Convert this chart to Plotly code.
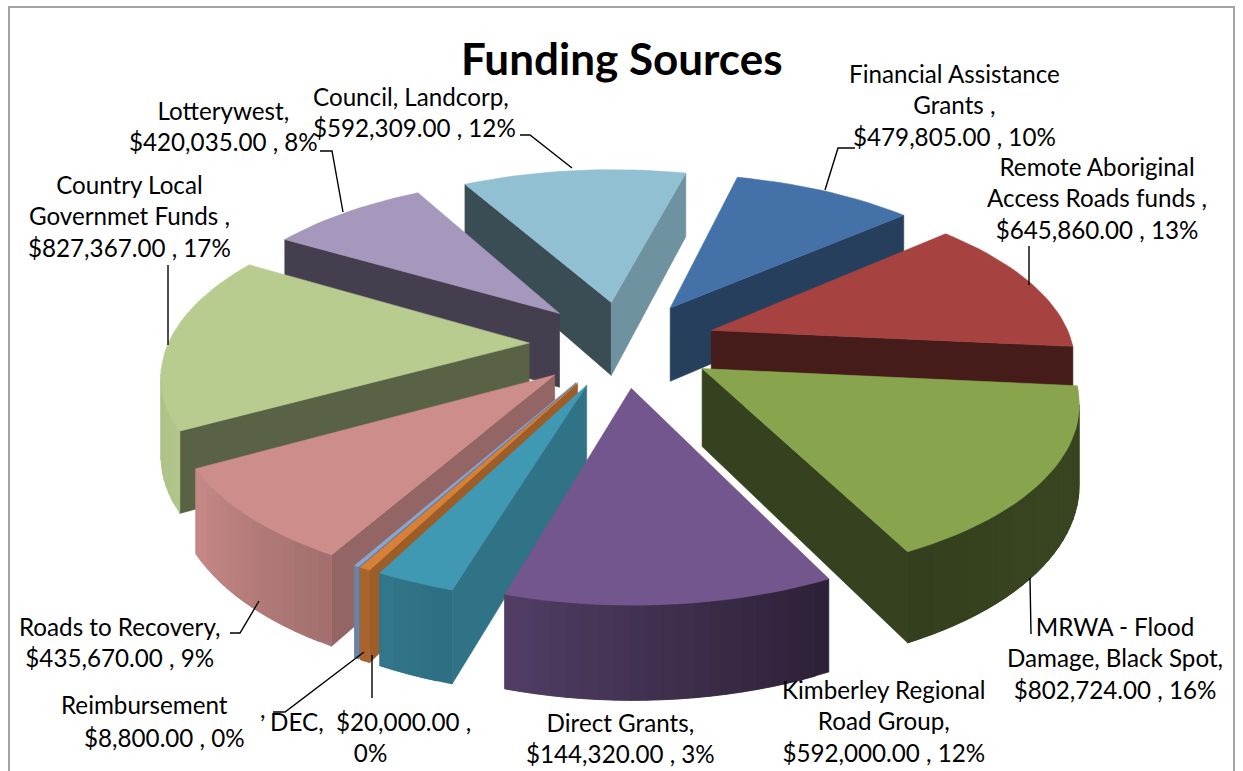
import math
import numpy as np
import plotly.graph_objects as go

categories = ["Financial Assistance Grants", "Remote Aboriginal Access Roads funds",
              "MRWA - Flood Damage, Black Spot", "Kimberley Regional Road Group",
              "Direct Grants", "DEC", "Reimbursement", "Roads to Recovery",
              "Country Local Governmet Funds", "Lotterywest", "Council, Landcorp"]
values = [479805, 645860, 802724, 592000, 144320, 20000, 8800, 435670, 827367, 420035, 592309]
top_colors = ["#4472A8", "#A64340", "#88A54D", "#72568D", "#4099B3", "#D78038",
              "#8AA6D0", "#CD8D8B", "#B8CC90", "#A697BD", "#92C0D3"]
label_text = [
    "Financial Assistance<br>Grants ,<br>$479,805.00 , 10%",
    "Remote Aboriginal<br>Access Roads funds ,<br>$645,860.00 , 13%",
    "MRWA - Flood<br>Damage, Black Spot,<br>$802,724.00 , 16%",
    "Kimberley Regional<br>Road Group,<br>$592,000.00 , 12%",
    "Direct Grants,<br>$144,320.00 , 3%",
    "DEC,  $20,000.00 ,<br>0%",
    "Reimbursement",
    "$8,800.00 , 0%",
    "Roads to Recovery,<br>$435,670.00 , 9%",
    "Country Local<br>Governmet Funds ,<br>$827,367.00 , 17%",
    "Lotterywest,<br>$420,035.00 , 8%",
]
label_xy = [(954, 105), (1097, 198), (1115, 658), (884, 721), (620, 738),
            (370, 737), (144, 704), (164, 737), (119, 642), (129, 216), (223, 126)]
council_text = "Council, Landcorp,<br>$592,309.00 , 12%"
leaders = [[(855, 148), (838, 148), (825, 190)],
           [(1029, 246), (1029, 285)],
           [(1031, 634), (1030, 578)],
           [(372, 698), (372, 655)],
           [(273, 712), (285, 712), (364, 652)],
           [(230, 633), (240, 633), (259, 601)],
           [(168, 265), (168, 345)],
           [(320, 151), (332, 151), (343, 212)],
           [(520, 135), (530, 135), (572, 168)]]

FONT = "Lato"
START = 14.0
CX, CY, A, B, P, D, EXPLODE = 623.0, 343.5, 361.0, 166.0, 0.16, 76.0, 0.26
OUTER_SHADE = ([90, 125, 154, 197, 240, 290], [.42, .42, .38, .72, .97, .9])
RADIAL_SHADE = ([100, 119, 139, 151, 185, 241], [.77, .72, .55, .48, .42, .40])

total = sum(values)
spans = [360.0 * v / total for v in values]


def project(u, v, z):
    f = 1.0 / (1.0 - P * v)
    return CX + A * u * f, CY + B * v * f + D * z * f


def rim(apex, a):
    r = math.radians(a)
    return apex[0] + math.sin(r), apex[1] - math.cos(r)


def scale(c, s):
    h = c.lstrip("#")
    return "rgb(%d,%d,%d)" % tuple(min(255, round(int(h[i:i + 2], 16) * s)) for i in (0, 2, 4))


def shade(table, normal):
    n = normal % 360
    if n < 60:
        n += 360
    return float(np.interp(n, table[0], table[1]))


def facing(pts):
    a = 0.0
    for (x0, y0), (x1, y1) in zip(pts, pts[1:] + pts[:1]):
        a += x0 * y1 - x1 * y0
    return a > 0


fig = go.Figure()


def poly(pts, color):
    xs = [p[0] for p in pts] + [pts[0][0]]
    ys = [p[1] for p in pts] + [pts[0][1]]
    fig.add_trace(go.Scatter(x=xs, y=ys, mode="lines", fill="toself", fillcolor=color,
                             line=dict(color=color, width=0.6), hoverinfo="skip", showlegend=False))


slices = []
cum = START
for i, sp in enumerate(spans):
    slices.append((i, cum, cum + sp))
    cum += sp
slices.sort(key=lambda s: -math.cos(math.radians((s[1] + s[2]) / 2)))

for i, t0, t1 in slices:
    mid = math.radians((t0 + t1) / 2)
    apex = (EXPLODE * math.sin(mid), -EXPLODE * math.cos(mid))
    col = top_colors[i]
    steps = max(2, int((t1 - t0) / 2))
    angles = np.linspace(t0, t1, steps + 1)
    # radial walls
    e0, e1 = rim(apex, t0), rim(apex, t1)
    for edge, normal, order in ((e0, t0 - 90, -1), (e1, t1 + 90, 1)):
        q = [project(*apex, 0), project(*edge, 0), project(*edge, 1), project(*apex, 1)]
        if order < 0:
            q = q[::-1]
        if facing(q):
            poly(q, scale(col, shade(RADIAL_SHADE, normal)))
    # outer wall: each strip overlaps the next so that no seams show
    n = len(angles)
    for k in range(n - 1):
        a0, a1 = angles[k], angles[min(k + 2, n - 1)]
        amid = (angles[k] + angles[k + 1]) / 2
        p0, p1 = rim(apex, a0), rim(apex, angles[k + 1])
        if not facing([project(*p0, 0), project(*p0, 1), project(*p1, 1), project(*p1, 0)]):
            continue
        arc = np.linspace(a0, a1, 4)
        q = [project(*rim(apex, a), 1) for a in arc] + [project(*rim(apex, a), 0) for a in arc[::-1]]
        poly(q, scale(col, shade(OUTER_SHADE, amid)))
    # top face
    poly([project(*apex, 0)] + [project(*rim(apex, a), 0) for a in angles], col)

for seg in leaders:
    fig.add_trace(go.Scatter(x=[p[0] for p in seg], y=[p[1] for p in seg], mode="lines",
                             line=dict(color="black", width=1.4), hoverinfo="skip", showlegend=False))

# chart frame
fig.add_trace(go.Scatter(x=[9, 9, 1234, 1234], y=[771, 7, 7, 771], mode="lines",
                         line=dict(color="#A3A3A3", width=2), hoverinfo="skip", showlegend=False))

for txt, (x, y) in zip(label_text, label_xy):
    fig.add_annotation(x=x, y=y, text=txt, showarrow=False, align="center",
                       font=dict(family=FONT, size=24.2, color="black"), xanchor="center", yanchor="middle")
fig.add_annotation(x=311, y=112, text=council_text, showarrow=False, align="left", xanchor="left",
                   font=dict(family=FONT, size=24.2, color="black"), yanchor="middle")
fig.add_annotation(x=263, y=708, text=",", showarrow=False, font=dict(family=FONT, size=24.2, color="black"))
fig.add_annotation(x=621, y=58, text="<b>Funding Sources</b>", showarrow=False,
                   font=dict(family=FONT, size=44, color="black"))

fig.update_layout(width=1243, height=771, margin=dict(l=0, r=0, t=0, b=0),
                  paper_bgcolor="white", plot_bgcolor="white", showlegend=False,
                  xaxis=dict(range=[0, 1243], visible=False, fixedrange=True),
                  yaxis=dict(range=[771, 0], visible=False, fixedrange=True))
fig.write_html("out.html", config={"displayModeBar": False},
               post_script="document.body.style.margin='0';document.documentElement.style.overflow='hidden';")
